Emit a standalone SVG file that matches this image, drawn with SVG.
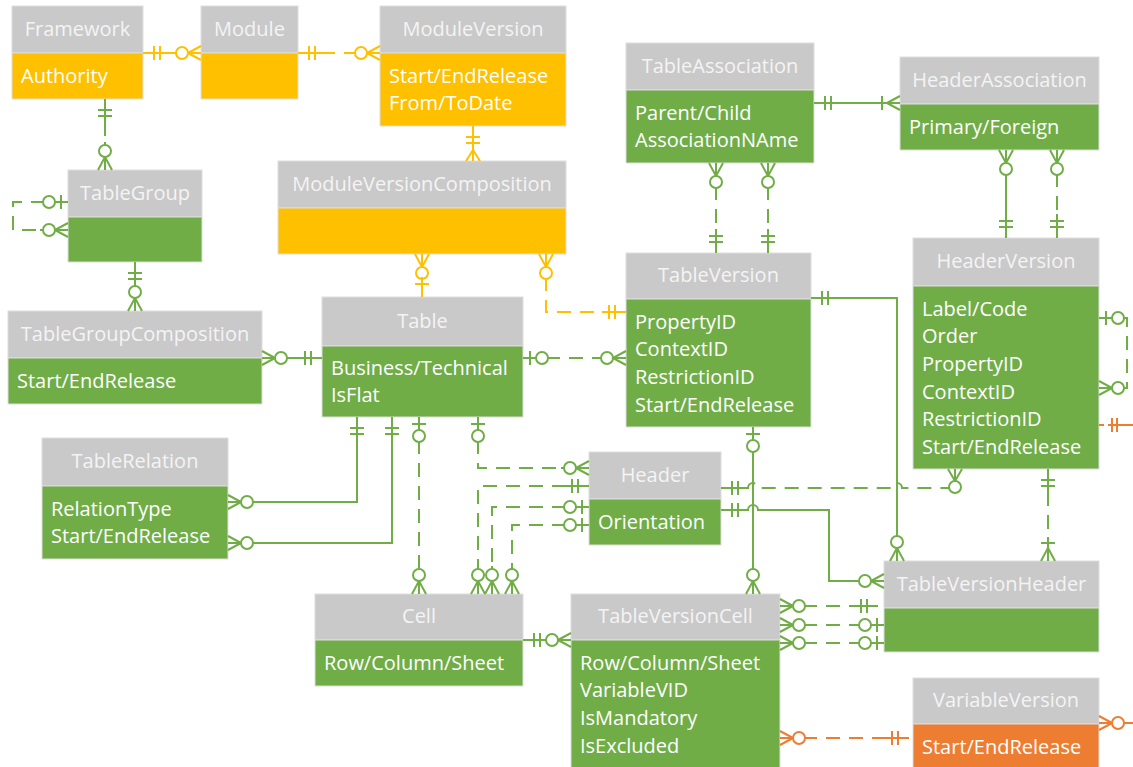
<svg xmlns="http://www.w3.org/2000/svg" width="1133" height="767" viewBox="0 0 1133 767">
<style>
.hd{fill:#C9C9C9;stroke:#DDDDDD;stroke-width:1}
.bg{fill:#70AD47;stroke:#DDDDDD;stroke-width:1}
.by{fill:#FFC000;stroke:#DDDDDD;stroke-width:1}
.bo{fill:#ED7D31;stroke:#DDDDDD;stroke-width:1}
text{font-family:'Open Sans','Liberation Sans',sans-serif;font-size:20px}
.t{fill:#F4F4F4;text-anchor:middle}
.b{fill:#FFFFFF}
.c{fill:none;stroke-width:2}
.g{stroke:#70AD47}
.y{stroke:#FFC000}
.o{stroke:#ED7D31}
.d{stroke-dasharray:14 9}
.mg path{stroke:#70AD47;stroke-width:2;fill:none}
.mg circle{stroke:#70AD47;stroke-width:2;fill:#FFFFFF}
.my path{stroke:#FFC000;stroke-width:2;fill:none}
.my circle{stroke:#FFC000;stroke-width:2;fill:#FFFFFF}
.mo path{stroke:#ED7D31;stroke-width:2;fill:none}
.mo circle{stroke:#ED7D31;stroke-width:2;fill:#FFFFFF}
</style>
<defs>
<marker id="g-zm" class="mg" markerUnits="userSpaceOnUse" orient="auto-start-reverse" overflow="visible" markerWidth="30" markerHeight="30" refX="0" refY="0"><path d="M-28,0H0M-13,0L0,-7M-13,0L0,7"/><circle cx="-19" cy="0" r="6"/></marker>
<marker id="g-zo" class="mg" markerUnits="userSpaceOnUse" orient="auto-start-reverse" overflow="visible" markerWidth="30" markerHeight="30" refX="0" refY="0"><path d="M-29,0H0M-7,-7V7"/><circle cx="-19" cy="0" r="6"/></marker>
<marker id="g-oo" class="mg" markerUnits="userSpaceOnUse" orient="auto-start-reverse" overflow="visible" markerWidth="30" markerHeight="30" refX="0" refY="0"><path d="M-24,0H0M-11,-7V7M-17,-7V7"/></marker>
<marker id="g-om" class="mg" markerUnits="userSpaceOnUse" orient="auto-start-reverse" overflow="visible" markerWidth="30" markerHeight="30" refX="0" refY="0"><path d="M-24,0H0M-18,-7V7M-13,0L0,-7M-13,0L0,7"/></marker>
<marker id="y-zm" class="my" markerUnits="userSpaceOnUse" orient="auto-start-reverse" overflow="visible" markerWidth="30" markerHeight="30" refX="0" refY="0"><path d="M-28,0H0M-13,0L0,-7M-13,0L0,7"/><circle cx="-19" cy="0" r="6"/></marker>
<marker id="y-oo" class="my" markerUnits="userSpaceOnUse" orient="auto-start-reverse" overflow="visible" markerWidth="30" markerHeight="30" refX="0" refY="0"><path d="M-24,0H0M-11,-7V7M-17,-7V7"/></marker>
<marker id="y-many" class="my" markerUnits="userSpaceOnUse" orient="auto-start-reverse" overflow="visible" markerWidth="30" markerHeight="30" refX="0" refY="0"><path d="M-16,0H0M-11,0L0,-7M-11,0L0,7"/></marker>
<marker id="y-one" class="my" markerUnits="userSpaceOnUse" orient="auto-start-reverse" overflow="visible" markerWidth="30" markerHeight="30" refX="0" refY="0"><path d="M-20,0H0M-13,-7V7"/></marker>
<marker id="o-zm" class="mo" markerUnits="userSpaceOnUse" orient="auto-start-reverse" overflow="visible" markerWidth="30" markerHeight="30" refX="0" refY="0"><path d="M-28,0H0M-13,0L0,-7M-13,0L0,7"/><circle cx="-19" cy="0" r="6"/></marker>
<marker id="o-oo" class="mo" markerUnits="userSpaceOnUse" orient="auto-start-reverse" overflow="visible" markerWidth="30" markerHeight="30" refX="0" refY="0"><path d="M-24,0H0M-11,-7V7M-17,-7V7"/></marker>
</defs>

<g id="Framework"><rect class="hd" x="12" y="6" width="131" height="47"/><rect class="by" x="12" y="53" width="131" height="46"/><text class="t" x="77.5" y="35.5">Framework</text><text class="b" x="21" y="83">Authority</text></g>
<g id="Module"><rect class="hd" x="201" y="6" width="97" height="47"/><rect class="by" x="201" y="53" width="97" height="46"/><text class="t" x="249.5" y="35.5">Module</text></g>
<g id="ModuleVersion"><rect class="hd" x="380" y="6" width="186" height="47"/><rect class="by" x="380" y="53" width="186" height="73"/><text class="t" x="473" y="35.5">ModuleVersion</text><text class="b" x="389" y="82.5">Start/EndRelease<tspan x="389" dy="27.7">From/ToDate</tspan></text></g>
<g id="TableAssociation"><rect class="hd" x="626" y="43" width="188" height="47"/><rect class="bg" x="626" y="90" width="188" height="73"/><text class="t" x="720" y="72.5">TableAssociation</text><text class="b" x="635" y="119.5">Parent/Child<tspan x="635" dy="27.7">AssociationNAme</tspan></text></g>
<g id="HeaderAssociation"><rect class="hd" x="900" y="57" width="199" height="47"/><rect class="bg" x="900" y="104" width="199" height="46"/><text class="t" x="999.5" y="86.5">HeaderAssociation</text><text class="b" x="909" y="133.5">Primary/Foreign</text></g>
<g id="TableGroup"><rect class="hd" x="68" y="170" width="134" height="47"/><rect class="bg" x="68" y="217" width="134" height="45"/><text class="t" x="135" y="199.5">TableGroup</text></g>
<g id="ModuleVersionComposition"><rect class="hd" x="278" y="161" width="288" height="47"/><rect class="by" x="278" y="208" width="288" height="46"/><text class="t" x="422" y="190.5">ModuleVersionComposition</text></g>
<g id="TableGroupComposition"><rect class="hd" x="8" y="311" width="254" height="47"/><rect class="bg" x="8" y="358" width="254" height="46"/><text class="t" x="135" y="340.5">TableGroupComposition</text><text class="b" x="17" y="387.5">Start/EndRelease</text></g>
<g id="Table"><rect class="hd" x="322" y="297" width="201" height="49"/><rect class="bg" x="322" y="346" width="201" height="71"/><text class="t" x="422.5" y="327.5">Table</text><text class="b" x="331" y="374.5">Business/Technical<tspan x="331" dy="27.7">IsFlat</tspan></text></g>
<g id="TableVersion"><rect class="hd" x="626" y="253" width="185" height="46"/><rect class="bg" x="626" y="299" width="185" height="128"/><text class="t" x="718.5" y="282">TableVersion</text><text class="b" x="635" y="328.5">PropertyID<tspan x="635" dy="27.7">ContextID</tspan><tspan x="635" dy="27.7">RestrictionID</tspan><tspan x="635" dy="27.7">Start/EndRelease</tspan></text></g>
<g id="HeaderVersion"><rect class="hd" x="913" y="238" width="186" height="48"/><rect class="bg" x="913" y="286" width="186" height="183"/><text class="t" x="1006" y="267.5">HeaderVersion</text><text class="b" x="922" y="315.5">Label/Code<tspan x="922" dy="27.7">Order</tspan><tspan x="922" dy="27.7">PropertyID</tspan><tspan x="922" dy="27.7">ContextID</tspan><tspan x="922" dy="27.7">RestrictionID</tspan><tspan x="922" dy="27.7">Start/EndRelease</tspan></text></g>
<g id="TableRelation"><rect class="hd" x="42" y="438" width="186" height="48"/><rect class="bg" x="42" y="486" width="186" height="73"/><text class="t" x="135" y="467.5">TableRelation</text><text class="b" x="51" y="515.5">RelationType<tspan x="51" dy="27.7">Start/EndRelease</tspan></text></g>
<g id="Header"><rect class="hd" x="589" y="452" width="132" height="47"/><rect class="bg" x="589" y="499" width="132" height="46"/><text class="t" x="655" y="481.5">Header</text><text class="b" x="598" y="528.5">Orientation</text></g>
<g id="TableVersionHeader"><rect class="hd" x="884" y="561" width="215" height="47"/><rect class="bg" x="884" y="608" width="215" height="44"/><text class="t" x="991.5" y="590.5">TableVersionHeader</text></g>
<g id="Cell"><rect class="hd" x="315" y="594" width="208" height="46"/><rect class="bg" x="315" y="640" width="208" height="46"/><text class="t" x="419" y="623">Cell</text><text class="b" x="324" y="669.5">Row/Column/Sheet</text></g>
<g id="TableVersionCell"><rect class="hd" x="571" y="594" width="209" height="46"/><rect class="bg" x="571" y="640" width="209" height="140"/><text class="t" x="675.5" y="623">TableVersionCell</text><text class="b" x="580" y="669.5">Row/Column/Sheet<tspan x="580" dy="27.7">VariableVID</tspan><tspan x="580" dy="27.7">IsMandatory</tspan><tspan x="580" dy="27.7">IsExcluded</tspan></text></g>
<g id="VariableVersion"><rect class="hd" x="913" y="678" width="186" height="46"/><rect class="bo" x="913" y="724" width="186" height="56"/><text class="t" x="1006" y="707">VariableVersion</text><text class="b" x="922" y="753.5">Start/EndRelease</text></g>

<g id="connectors">
<path class="c y" d="M143,53H201" marker-start="url(#y-oo)" marker-end="url(#y-zm)"/>
<path class="c y d" d="M298,53H380" marker-start="url(#y-oo)" marker-end="url(#y-zm)"/>
<path class="c y" d="M473,126V161" marker-start="url(#y-oo)" marker-end="url(#y-many)"/>
<path class="c y" d="M422,254V297" marker-start="url(#y-zm)" marker-end="url(#y-one)"/>
<path class="c y d" d="M546,254V312H626" marker-start="url(#y-zm)" marker-end="url(#y-oo)"/>

<path class="c g d" d="M105,99V170" marker-start="url(#g-oo)" marker-end="url(#g-zm)"/>
<path class="c g d" d="M68,202H13V230H68" marker-start="url(#g-zo)" marker-end="url(#g-zm)"/>
<path class="c g" d="M135,262V311" marker-start="url(#g-oo)" marker-end="url(#g-zm)"/>
<path class="c g" d="M262,358H322" marker-start="url(#g-zm)" marker-end="url(#g-oo)"/>
<path class="c g d" d="M523,358H626" marker-start="url(#g-zo)" marker-end="url(#g-zm)"/>
<path class="c g" d="M357,417V502H228" marker-start="url(#g-oo)" marker-end="url(#g-zm)"/>
<path class="c g" d="M392,417V543H228" marker-start="url(#g-oo)" marker-end="url(#g-zm)"/>
<path class="c g d" d="M419,417V594" marker-start="url(#g-zo)" marker-end="url(#g-zm)"/>
<path class="c g d" d="M478,417V468H589" marker-start="url(#g-zo)" marker-end="url(#g-zm)"/>
<path class="c g d" d="M589,486H478V594" marker-start="url(#g-oo)" marker-end="url(#g-zm)"/>
<path class="c g d" d="M589,507H492V594" marker-start="url(#g-zo)" marker-end="url(#g-zm)"/>
<path class="c g d" d="M589,525H512V594" marker-start="url(#g-zo)" marker-end="url(#g-zm)"/>
<path class="c g d" d="M716,163V253" marker-start="url(#g-zm)" marker-end="url(#g-oo)"/>
<path class="c g d" d="M768,163V253" marker-start="url(#g-zm)" marker-end="url(#g-oo)"/>
<path class="c g" d="M814,103H900" marker-start="url(#g-oo)" marker-end="url(#g-om)"/>
<path class="c g" d="M1006,150V238" marker-start="url(#g-zm)" marker-end="url(#g-oo)"/>
<path class="c g d" d="M1057,150V238" marker-start="url(#g-zm)" marker-end="url(#g-oo)"/>
<path class="c g" d="M753,427V594" marker-start="url(#g-zo)" marker-end="url(#g-zm)"/>
<path class="c g d" d="M721,488H748A5,5 0 0 1 758,488H892A5,5 0 0 1 902,488H949" marker-start="url(#g-oo)"/>
<path class="c g" d="M955,481V469M948,469L955,481L962,469"/>
<circle cx="955" cy="487" r="6" fill="#FFFFFF" stroke="#70AD47" stroke-width="2"/>
<path class="c g" d="M721,510H748A5,5 0 0 1 758,510H829V581H884" marker-start="url(#g-oo)" marker-end="url(#g-zm)"/>
<path class="c g" d="M811,298H897V561" marker-start="url(#g-oo)" marker-end="url(#g-zm)"/>
<path class="c g d" d="M1048,469V561" marker-start="url(#g-oo)" marker-end="url(#g-om)"/>
<path class="c g d" d="M1099,318H1127V388H1099" marker-start="url(#g-zo)" marker-end="url(#g-zm)"/>
<path class="c g d" d="M780,606H878" marker-start="url(#g-zm)" marker-end="url(#g-oo)"/>
<path class="c g d" d="M780,625H884" marker-start="url(#g-zm)" marker-end="url(#g-zo)"/>
<path class="c g d" d="M780,643H884" marker-start="url(#g-zm)" marker-end="url(#g-zo)"/>
<path class="c g" d="M523,640H571" marker-start="url(#g-oo)" marker-end="url(#g-zm)"/>

<path class="c o" d="M1099,425H1104M1108,425H1133M1112,418V432M1117,418V432"/>
<path class="c o d" d="M780,738H909" marker-start="url(#o-zm)" marker-end="url(#o-oo)"/>
<path class="c o" d="M1099,723H1133" marker-start="url(#o-zm)"/>
</g>
</svg>
